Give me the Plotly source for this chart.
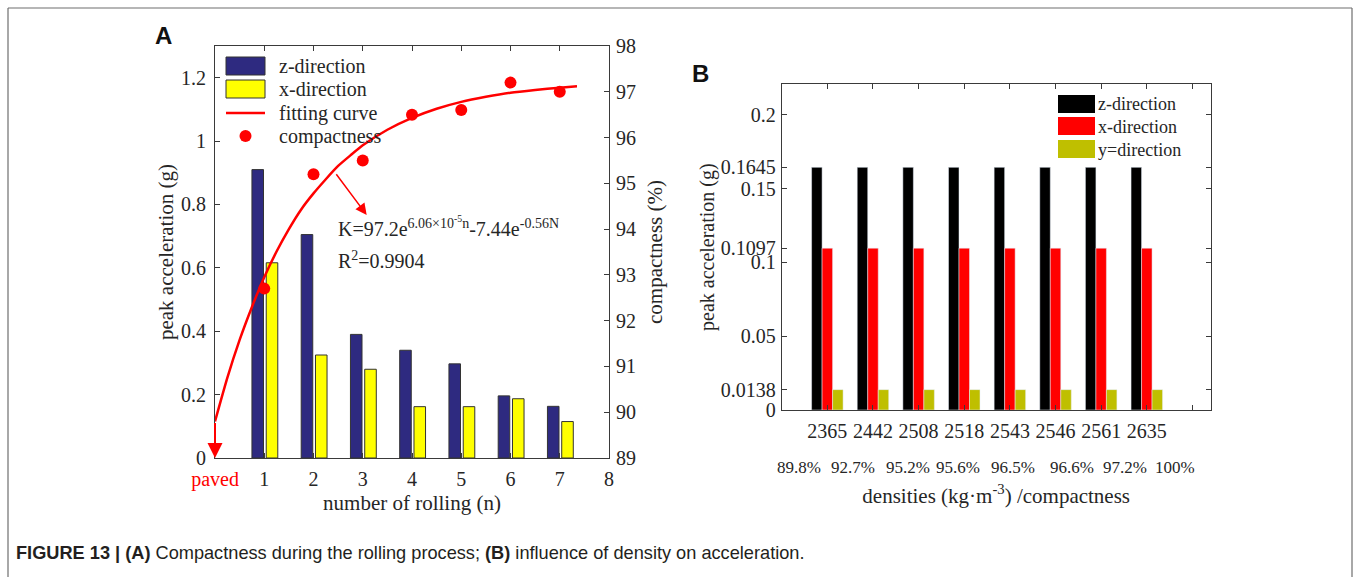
import plotly.graph_objects as go

# ---------------- data (panel A) ----------------
rolling_n = [1, 2, 3, 4, 5, 6, 7]
z_dir_a = [0.91, 0.705, 0.39, 0.34, 0.297, 0.196, 0.163]
x_dir_a = [0.616, 0.325, 0.28, 0.162, 0.162, 0.187, 0.115]
compactness = [92.7, 95.2, 95.5, 96.5, 96.6, 97.2, 97.0]
fit_n = [0, 0.25, 0.5, 0.75, 1, 1.25, 1.5, 1.75, 2, 2.25, 2.5, 2.75, 3, 3.5, 4, 4.5, 5, 5.5, 6, 6.5, 7, 7.35]
fit_k = [89.8, 90.75, 91.58, 92.3, 92.95, 93.51, 94.0, 94.43, 94.78, 95.09, 95.38, 95.61, 95.83,
         96.17, 96.43, 96.63, 96.78, 96.89, 96.98, 97.04, 97.09, 97.12]
x_ticks_a = [0, 1, 2, 3, 4, 5, 6, 7, 8]
x_ticktext_a = ['<span style="color:#ff0000">paved</span>', '1', '2', '3', '4', '5', '6', '7', '8']
legend_a = ["z-direction", "x-direction", "fitting curve", "compactness"]

# ---------------- data (panel B) ----------------
densities = [2365, 2442, 2508, 2518, 2543, 2546, 2561, 2635]
dens_pos = [1, 2, 3, 4, 5, 6, 7, 8]
z_dir_b = [0.1645, 0.1645, 0.1645, 0.1645, 0.1645, 0.1645, 0.1645, 0.1645]
x_dir_b = [0.1097, 0.1097, 0.1097, 0.1097, 0.1097, 0.1097, 0.1097, 0.1097]
y_dir_b = [0.0138, 0.0138, 0.0138, 0.0138, 0.0138, 0.0138, 0.0138, 0.0138]
y_ticks_b = [0, 0.0138, 0.05, 0.1, 0.1097, 0.15, 0.1645, 0.2]
compact_labels = ['89.8%', '92.7%', '95.2%', '95.6%', '96.5%', '96.6%', '97.2%', '100%']
compact_label_pos = [0.38, 1.56, 2.77, 3.86, 5.07, 6.36, 7.52, 8.62]
legend_b = ["z-direction", "x-direction", "y=direction"]

W, H = 1355, 577
SERIF = "Liberation Serif, Times New Roman, serif"
AX = "#3a3a3a"
TXT = "#262626"
C_ZA, C_XA, C_RED = "#2E2A80", "#FFFF00", "#ff0000"
C_ZB, C_XB, C_YB = "#000000", "#ff0000", "#BFBF00"


def px(x):
    return x / W


def py(y):
    return 1 - y / H


fig = go.Figure()

# Panel A
fig.add_trace(go.Bar(x=rolling_n, y=z_dir_a, name=legend_a[0], width=0.235, offset=-0.25,
                     marker=dict(color=C_ZA, line=dict(color="#333333", width=1)),
                     xaxis="x", yaxis="y"))
fig.add_trace(go.Bar(x=rolling_n, y=x_dir_a, name=legend_a[1], width=0.235, offset=0.04,
                     marker=dict(color=C_XA, line=dict(color="#333333", width=1)),
                     xaxis="x", yaxis="y"))
fig.add_trace(go.Scatter(x=fit_n, y=fit_k, name=legend_a[2], mode="lines",
                         line=dict(color=C_RED, width=2.5, shape="spline", smoothing=0.5),
                         xaxis="x", yaxis="y2"))
fig.add_trace(go.Scatter(x=rolling_n, y=compactness, name=legend_a[3], mode="markers",
                         marker=dict(color=C_RED, size=12),
                         xaxis="x", yaxis="y2"))

# Panel B
fig.add_trace(go.Bar(x=dens_pos, y=z_dir_b, name=legend_b[0], marker=dict(color=C_ZB),
                     xaxis="x3", yaxis="y3"))
fig.add_trace(go.Bar(x=dens_pos, y=x_dir_b, name=legend_b[1], marker=dict(color=C_XB),
                     xaxis="x3", yaxis="y3"))
fig.add_trace(go.Bar(x=dens_pos, y=y_dir_b, name=legend_b[2], marker=dict(color=C_YB),
                     xaxis="x3", yaxis="y3"))

tickfont = dict(family=SERIF, size=20, color=TXT)
common = dict(showline=True, linecolor=AX, linewidth=1, ticks="inside", ticklen=5,
              tickcolor=AX, showgrid=False, zeroline=False, tickfont=tickfont, automargin=False)

fig.update_layout(
    width=W, height=H, margin=dict(l=0, r=0, t=0, b=0, pad=0, autoexpand=False),
    paper_bgcolor="white", plot_bgcolor="white", showlegend=False,
    barmode="group", bargap=0.31, bargroupgap=0,
    font=dict(family=SERIF, color=TXT),
    xaxis=dict(domain=[px(215), px(609)], range=[0, 8], tickvals=x_ticks_a, ticktext=x_ticktext_a,
               mirror="ticks", anchor="y", ticklabelstandoff=3,
               title=dict(text="number of rolling (n)", font=dict(family=SERIF, size=21, color=TXT), standoff=5),
               **common),
    yaxis=dict(domain=[py(458), py(46)], range=[0, 1.3], tickvals=[0, 0.2, 0.4, 0.6, 0.8, 1, 1.2],
               ticktext=["0", "0.2", "0.4", "0.6", "0.8", "1", "1.2"], mirror=True, anchor="x",
               ticklabelstandoff=4,
               title=dict(text="peak acceleration (g)", font=dict(family=SERIF, size=21, color=TXT), standoff=1),
               **common),
    yaxis2=dict(range=[89, 98], dtick=1, overlaying="y", side="right", anchor="x",
                ticklabelstandoff=2,
                title=dict(text="compactness (%)", font=dict(family=SERIF, size=21, color=TXT), standoff=12),
                **common),
    xaxis3=dict(domain=[px(781.7), px(1210.7)], range=[0, 9.4], tickvals=[1, 2, 3, 4, 5, 6, 7, 8, 9],
                ticktext=[str(d) for d in densities] + [""], mirror="ticks", anchor="y3",
                ticklabelstandoff=3,
                title=dict(text="densities (kg·m<sup>-3</sup>) /compactness",
                           font=dict(family=SERIF, size=21, color=TXT), standoff=47),
                **common),
    yaxis3=dict(domain=[py(410), py(84.3)], range=[0, 0.2208], tickvals=y_ticks_b,
                ticktext=[str(v) for v in y_ticks_b], mirror="ticks", anchor="x3",
                ticklabelstandoff=1,
                title=dict(text="peak acceleration (g)", font=dict(family=SERIF, size=20, color=TXT), standoff=0),
                **common),
)

ann = []
shapes = []
# fit formula
ann.append(dict(xref="x", yref="y2", x=2.45, y=94.05, xanchor="left", yanchor="middle", showarrow=False,
                text="K=97.2e<sup>6.06×10<sup>-5</sup>n</sup>-7.44e<sup>-0.56N</sup>",
                font=dict(family=SERIF, size=20, color=TXT)))
ann.append(dict(xref="x", yref="y2", x=2.45, y=93.32, xanchor="left", yanchor="middle", showarrow=False,
                text="R<sup>2</sup>=0.9904", font=dict(family=SERIF, size=20, color=TXT)))
# arrow from curve to formula
ann.append(dict(xref="x", yref="y2", axref="x", ayref="y2", x=3.08, y=94.31, ax=2.44, ay=95.23,
                showarrow=True, arrowhead=2, arrowsize=1.5, arrowwidth=1.5, arrowcolor=C_RED, text=""))
# arrow from curve start down to paved
ann.append(dict(xref="x", yref="y2", axref="x", ayref="y2", x=0, y=89.0, ax=0, ay=89.8,
                showarrow=True, arrowhead=2, arrowsize=1.5, arrowwidth=2, arrowcolor=C_RED, text=""))
# compactness labels panel B
for lab, pos in zip(compact_labels, compact_label_pos):
    ann.append(dict(xref="x3", yref="paper", x=pos, y=py(467), xanchor="center", yanchor="middle",
                    showarrow=False, text=lab, font=dict(family=SERIF, size=17, color=TXT)))

# ---- legend panel A (drawn as key) ----
leg_a_y = [66, 89, 113, 136]
shapes.append(dict(type="rect", xref="paper", yref="paper", x0=px(226), x1=px(265), y0=py(75), y1=py(57),
                   fillcolor=C_ZA, line=dict(color="#333333", width=1)))
shapes.append(dict(type="rect", xref="paper", yref="paper", x0=px(226), x1=px(265), y0=py(98), y1=py(80),
                   fillcolor=C_XA, line=dict(color="#333333", width=1)))
shapes.append(dict(type="line", xref="paper", yref="paper", x0=px(226), x1=px(265), y0=py(113), y1=py(113),
                   line=dict(color=C_RED, width=2.5)))
shapes.append(dict(type="circle", xref="paper", yref="paper", x0=px(239.5), x1=px(251.5), y0=py(142), y1=py(130),
                   fillcolor=C_RED, line=dict(color=C_RED, width=0)))
for lab, yy in zip(legend_a, leg_a_y):
    ann.append(dict(xref="paper", yref="paper", x=px(277), y=py(yy), xanchor="left", yanchor="middle",
                    showarrow=False, text=lab, font=dict(family=SERIF, size=20, color=TXT)))

# ---- legend panel B ----
leg_b_y = [104, 127, 150]
for col, (y0, y1) in zip([C_ZB, C_XB, C_YB], [(113, 95), (135, 117), (158, 140)]):
    shapes.append(dict(type="rect", xref="paper", yref="paper", x0=px(1058), x1=px(1095), y0=py(y0), y1=py(y1),
                       fillcolor=col, line=dict(width=0)))
for lab, yy in zip(legend_b, leg_b_y):
    ann.append(dict(xref="paper", yref="paper", x=px(1096), y=py(yy), xanchor="left", yanchor="middle",
                    showarrow=False, text=lab, font=dict(family=SERIF, size=18, color=TXT)))

# panel letters
ann.append(dict(xref="paper", yref="paper", x=px(163), y=py(35), xanchor="center", yanchor="middle",
                showarrow=False, text="<b>A</b>",
                font=dict(family="Liberation Sans, Arial, sans-serif", size=24, color="#111111")))
ann.append(dict(xref="paper", yref="paper", x=px(700), y=py(73), xanchor="center", yanchor="middle",
                showarrow=False, text="<b>B</b>",
                font=dict(family="Liberation Sans, Arial, sans-serif", size=24, color="#111111")))
# caption
ann.append(dict(xref="paper", yref="paper", x=px(14), y=py(553), xanchor="left", yanchor="middle",
                showarrow=False,
                text="<b>FIGURE 13 | (A)</b> Compactness during the rolling process; <b>(B)</b> influence of density on acceleration.",
                font=dict(family="Liberation Sans, Arial, sans-serif", size=18.2, color="#231f20")))

# outer frame (open at the bottom)
frame = dict(type="line", xref="paper", yref="paper", line=dict(color="#6e6e6e", width=1.2))
shapes += [
    dict(frame, x0=px(8), x1=px(1352), y0=py(8), y1=py(8)),
    dict(frame, x0=px(8), x1=px(8), y0=py(8), y1=0),
    dict(frame, x0=px(1352), x1=px(1352), y0=py(8), y1=0),
]
fig.update_layout(annotations=ann, shapes=shapes)

fig.write_html("out.html")
